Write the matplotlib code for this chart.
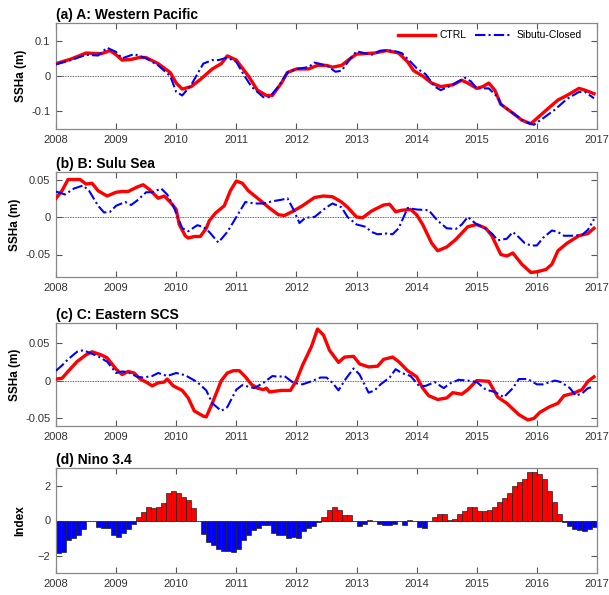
import numpy as np
import matplotlib
matplotlib.use("Agg")
import matplotlib.pyplot as plt

plt.rcParams['font.family'] = ['Liberation Sans', 'DejaVu Sans']

# ---- (a) Western Pacific ----
a_ctrl_t = [2008.0, 2008.25, 2008.5, 2008.75, 2008.9, 2009.0, 2009.1, 2009.25, 2009.4, 2009.5, 2009.7, 2009.9,
            2010.0, 2010.1, 2010.25, 2010.4, 2010.6, 2010.75, 2010.85, 2011.0, 2011.2, 2011.35, 2011.5, 2011.6,
            2011.75, 2011.85, 2012.0, 2012.2, 2012.35, 2012.5, 2012.6, 2012.75, 2012.9, 2013.0, 2013.3, 2013.5,
            2013.7, 2013.85, 2013.95, 2014.1, 2014.25, 2014.4, 2014.6, 2014.75, 2014.85, 2015.0, 2015.1, 2015.2,
            2015.3, 2015.4, 2015.6, 2015.75, 2015.9, 2016.0, 2016.2, 2016.35, 2016.5, 2016.7, 2016.8, 2016.95]
a_ctrl_v = [0.035, 0.048, 0.065, 0.063, 0.072, 0.06, 0.045, 0.047, 0.053, 0.052, 0.035, 0.01,
            -0.02, -0.037, -0.03, -0.01, 0.02, 0.035, 0.057, 0.045, 0.0, -0.04, -0.055, -0.055,
            -0.02, 0.01, 0.02, 0.02, 0.03, 0.03, 0.025, 0.03, 0.05, 0.062, 0.065, 0.072,
            0.065, 0.04, 0.015, 0.0, -0.02, -0.03, -0.025, -0.012, -0.02, -0.035, -0.03, -0.02,
            -0.04, -0.08, -0.105, -0.125, -0.135, -0.12, -0.09, -0.068, -0.055, -0.035, -0.04, -0.05]
a_sib_t = [2008.0, 2008.25, 2008.5, 2008.7, 2008.85, 2009.0, 2009.1, 2009.3, 2009.5, 2009.7, 2009.9, 2010.0,
           2010.1, 2010.25, 2010.45, 2010.6, 2010.7, 2010.85, 2011.0, 2011.1, 2011.25, 2011.45, 2011.55, 2011.7,
           2011.85, 2012.0, 2012.2, 2012.3, 2012.5, 2012.65, 2012.75, 2012.9, 2013.0, 2013.25, 2013.4, 2013.6,
           2013.75, 2013.9, 2014.0, 2014.15, 2014.3, 2014.4, 2014.6, 2014.8, 2014.9, 2015.0, 2015.2, 2015.35,
           2015.4, 2015.6, 2015.8, 2015.95, 2016.1, 2016.3, 2016.5, 2016.7, 2016.8, 2016.95]
a_sib_v = [0.033, 0.045, 0.06, 0.058, 0.08, 0.068, 0.05, 0.062, 0.05, 0.03, 0.0, -0.045,
           -0.055, -0.025, 0.035, 0.045, 0.045, 0.052, 0.04, 0.01, -0.03, -0.06, -0.06, -0.03,
           0.01, 0.02, 0.025, 0.038, 0.03, 0.012, 0.015, 0.05, 0.07, 0.06, 0.072, 0.072,
           0.065, 0.04, 0.022, 0.005, -0.03, -0.04, -0.025, -0.005, -0.015, -0.035, -0.035, -0.06,
           -0.08, -0.105, -0.13, -0.138, -0.12, -0.095, -0.065, -0.045, -0.045, -0.063]

# ---- (b) Sulu Sea ----
b_ctrl_t = [2008.0, 2008.1, 2008.2, 2008.4, 2008.5, 2008.6, 2008.7, 2008.85, 2009.0, 2009.1, 2009.2, 2009.35,
            2009.45, 2009.55, 2009.7, 2009.8, 2009.9, 2010.0, 2010.05, 2010.15, 2010.2, 2010.3, 2010.4, 2010.5,
            2010.55, 2010.65, 2010.8, 2010.9, 2011.0, 2011.1, 2011.2, 2011.4, 2011.55, 2011.7, 2011.8, 2011.95,
            2012.1, 2012.3, 2012.45, 2012.6, 2012.75, 2012.85, 2013.0, 2013.1, 2013.25, 2013.45, 2013.55, 2013.65,
            2013.75, 2013.9, 2014.0, 2014.1, 2014.25, 2014.35, 2014.5, 2014.65, 2014.85, 2015.0, 2015.15, 2015.25,
            2015.4, 2015.5, 2015.6, 2015.75, 2015.9, 2016.0, 2016.15, 2016.25, 2016.35, 2016.5, 2016.7, 2016.85,
            2016.95]
b_ctrl_v = [0.025, 0.035, 0.05, 0.05, 0.044, 0.045, 0.035, 0.028, 0.033, 0.034, 0.034, 0.04,
            0.043, 0.037, 0.025, 0.028, 0.02, 0.01, -0.01, -0.025, -0.028, -0.026, -0.026, -0.015,
            -0.005, 0.005, 0.015, 0.035, 0.048, 0.045, 0.035, 0.022, 0.012, 0.003, 0.002, 0.008,
            0.015, 0.026, 0.028, 0.027, 0.02, 0.013, 0.0, -0.001, 0.008, 0.016, 0.017, 0.007,
            0.009, 0.01, 0.003, -0.01, -0.035, -0.045, -0.04, -0.03, -0.013, -0.01, -0.015, -0.025,
            -0.05, -0.052, -0.048, -0.063, -0.074, -0.073, -0.07, -0.063, -0.045, -0.035, -0.025, -0.022,
            -0.015]
b_sib_t = [2008.0, 2008.15, 2008.3, 2008.45, 2008.55, 2008.7, 2008.8, 2008.9, 2009.0, 2009.15, 2009.25, 2009.35,
           2009.5, 2009.6, 2009.75, 2009.85, 2009.95, 2010.1, 2010.2, 2010.35, 2010.45, 2010.55, 2010.7, 2010.85,
           2011.0, 2011.15, 2011.3, 2011.45, 2011.6, 2011.75, 2011.85, 2011.95, 2012.05, 2012.15, 2012.3, 2012.5,
           2012.6, 2012.75, 2012.85, 2013.0, 2013.15, 2013.25, 2013.35, 2013.5, 2013.6, 2013.7, 2013.85, 2014.0,
           2014.2, 2014.35, 2014.5, 2014.65, 2014.75, 2014.85, 2015.0, 2015.1, 2015.25, 2015.35, 2015.5, 2015.6,
           2015.7, 2015.8, 2015.9, 2016.0, 2016.1, 2016.25, 2016.35, 2016.45, 2016.6, 2016.75, 2016.85, 2016.95]
b_sib_v = [0.034, 0.03, 0.038, 0.042, 0.035, 0.015, 0.006, 0.007, 0.015, 0.02, 0.016, 0.022,
           0.033, 0.033, 0.038, 0.03, 0.015, -0.015, -0.019, -0.011, -0.013, -0.02, -0.034, -0.02,
           0.0, 0.02, 0.018, 0.018, 0.021, 0.023, 0.025, 0.01, -0.008, -0.001, 0.0, 0.013,
           0.018, 0.013, 0.0, -0.01, -0.013, -0.02, -0.023, -0.022, -0.023, -0.015, 0.012, 0.01,
           0.009, -0.005, -0.015, -0.016, -0.01, 0.0, -0.01, -0.013, -0.022, -0.031, -0.029, -0.02,
           -0.027, -0.035, -0.038, -0.038, -0.028, -0.018, -0.02, -0.025, -0.025, -0.024, -0.017, -0.003]

# ---- (c) Eastern SCS ----
c_ctrl_t = [2008.0, 2008.1, 2008.2, 2008.35, 2008.5, 2008.6, 2008.75, 2008.85, 2009.0, 2009.1, 2009.2, 2009.3,
            2009.4, 2009.5, 2009.6, 2009.7, 2009.8, 2009.85, 2009.95, 2010.1, 2010.2, 2010.3, 2010.45, 2010.5,
            2010.6, 2010.7, 2010.75, 2010.85, 2010.95, 2011.05, 2011.15, 2011.25, 2011.35, 2011.45, 2011.5, 2011.55,
            2011.75, 2011.9, 2012.0, 2012.1, 2012.25, 2012.35, 2012.45, 2012.55, 2012.7, 2012.8, 2012.95, 2013.05,
            2013.2, 2013.35, 2013.45, 2013.6, 2013.7, 2013.85, 2014.0, 2014.1, 2014.2, 2014.35, 2014.5, 2014.6,
            2014.75, 2014.85, 2015.0, 2015.2, 2015.35, 2015.5, 2015.7, 2015.85, 2015.95, 2016.05, 2016.2, 2016.35,
            2016.45, 2016.6, 2016.75, 2016.85, 2016.95]
c_ctrl_v = [0.002, 0.003, 0.012, 0.025, 0.034, 0.038, 0.034, 0.03, 0.015, 0.008, 0.012, 0.01,
            0.002, -0.002, -0.007, -0.003, -0.002, 0.002, -0.007, -0.013, -0.023, -0.04, -0.047, -0.048,
            -0.03, -0.01, 0.0, 0.01, 0.013, 0.013, 0.005, -0.005, -0.01, -0.012, -0.01, -0.015,
            -0.013, -0.013, 0.0, 0.02, 0.045, 0.068, 0.06, 0.04, 0.024, 0.031, 0.032, 0.022,
            0.018, 0.019, 0.028, 0.031, 0.025, 0.013, 0.005, -0.01, -0.02, -0.025, -0.023, -0.016,
            -0.018, -0.012, 0.0, -0.001, -0.022, -0.03, -0.045, -0.052, -0.05, -0.042, -0.035, -0.03,
            -0.02, -0.017, -0.012, -0.001, 0.005]
c_sib_t = [2008.0, 2008.1, 2008.2, 2008.35, 2008.45, 2008.55, 2008.7, 2008.85, 2009.0, 2009.1, 2009.2, 2009.35,
           2009.45, 2009.6, 2009.7, 2009.85, 2010.0, 2010.15, 2010.35, 2010.5, 2010.6, 2010.75, 2010.85, 2011.0,
           2011.1, 2011.2, 2011.3, 2011.45, 2011.6, 2011.7, 2011.8, 2011.95, 2012.1, 2012.25, 2012.4, 2012.5,
           2012.6, 2012.7, 2012.8, 2012.95, 2013.05, 2013.2, 2013.3, 2013.4, 2013.55, 2013.65, 2013.75, 2013.9,
           2014.05, 2014.15, 2014.3, 2014.45, 2014.55, 2014.7, 2014.85, 2015.0, 2015.15, 2015.3, 2015.45, 2015.6,
           2015.7, 2015.85, 2016.0, 2016.1, 2016.3, 2016.4, 2016.55, 2016.65, 2016.75, 2016.85, 2016.95]
c_sib_v = [0.013, 0.02, 0.028, 0.038, 0.04, 0.037, 0.032, 0.025, 0.01, 0.012, 0.011, 0.005,
           0.004, 0.006, 0.01, 0.006, 0.01, 0.007, -0.002, -0.013, -0.03, -0.04, -0.035, -0.012,
           -0.006, -0.008, -0.01, -0.003, 0.006, 0.005, 0.006, -0.003, -0.005, -0.001, 0.004, 0.004,
           -0.003, -0.013, 0.0, 0.016, 0.008, -0.016, -0.013, -0.005, 0.004, 0.015, 0.01, 0.006,
           -0.008, -0.007, -0.002, -0.01, -0.004, 0.001, 0.0, -0.002, -0.012, -0.015, -0.022, -0.01,
           0.002, 0.002, -0.005, -0.005, 0.0, -0.002, -0.01, -0.02, -0.017, -0.01, -0.008]

# ---- (d) Nino 3.4 index, monthly Jan 2008 - Dec 2016 ----
nino = [-1.85, -1.8, -1.1, -1.0, -0.8, -0.5, -0.05, -0.05, -0.35, -0.4, -0.45, -0.8,
        -0.95, -0.7, -0.5, -0.2, 0.2, 0.5, 0.75, 0.7, 0.8, 1.0, 1.55, 1.7,
        1.6, 1.35, 1.15, 0.7, -0.05, -0.75, -1.2, -1.4, -1.6, -1.75, -1.75, -1.8,
        -1.65, -1.1, -0.8, -0.55, -0.4, -0.25, -0.25, -0.7, -0.8, -0.8, -1.0, -0.95,
        -1.0, -0.6, -0.45, -0.3, -0.1, 0.2, 0.6, 0.8, 0.6, 0.3, 0.3, 0.0,
        -0.3, -0.2, 0.05, -0.05, -0.2, -0.25, -0.25, -0.2, -0.05, -0.25, 0.05, -0.05,
        -0.35, -0.45, 0.0, 0.2, 0.4, 0.35, 0.05, 0.1, 0.4, 0.55, 0.75, 0.75,
        0.55, 0.55, 0.6, 0.8, 1.05, 1.3, 1.6, 2.0, 2.2, 2.4, 2.8, 2.8,
        2.65, 2.35, 1.7, 1.05, 0.35, -0.1, -0.3, -0.5, -0.55, -0.6, -0.5, -0.35]

years = list(range(2008, 2018))

fig = plt.figure(figsize=(6.09, 5.95), dpi=100)
L, W = 56/609, 541/609
boxes = [(23, 129), (172, 277), (323, 426), (468, 573)]
axes = [fig.add_axes([L, 1 - b/595, W, (b - t)/595]) for t, b in boxes]

def style(ax):
    ax.set_xlim(2008, 2017)
    ax.set_xticks(years)
    ax.tick_params(direction='in', top=True, right=True, length=4, width=0.8,
                   labelsize=8, colors='#555555', labelcolor='#333333', pad=4)
    for s in ax.spines.values():
        s.set_color('#888888')
        s.set_linewidth(0.9)
    ax.axhline(0, color='#333333', lw=0.6, ls=(0, (1, 1)), zorder=1)

panels = [
    (a_ctrl_t, a_ctrl_v, a_sib_t, a_sib_v, (-0.15, 0.15), [-0.1, 0, 0.1], ['-0.1', '0', '0.1'], '(a) A: Western Pacific'),
    (b_ctrl_t, b_ctrl_v, b_sib_t, b_sib_v, (-0.08, 0.06), [-0.05, 0, 0.05], ['-0.05', '0', '0.05'], '(b) B: Sulu Sea'),
    (c_ctrl_t, c_ctrl_v, c_sib_t, c_sib_v, (-0.06, 0.076), [-0.05, 0, 0.05], ['-0.05', '0', '0.05'], '(c) C: Eastern SCS'),
]

for ax, (ct, cv, st, sv, yl, yt, ytl, title) in zip(axes[:3], panels):
    style(ax)
    ax.plot(ct, cv, color='#ff0000', lw=2.4, label='CTRL', zorder=3)
    ax.plot(st, sv, color='#0000ff', lw=1.5, ls=(0, (5, 1.5, 1, 1.5)), label='Sibutu-Closed', zorder=4)
    ax.set_ylim(*yl)
    ax.set_yticks(yt)
    ax.set_yticklabels(ytl)
    ax.set_ylabel('SSHa (m)', fontsize=8.5, fontweight='bold', labelpad=3)
    ax.set_title(title, loc='left', fontsize=10, fontweight='bold', pad=3)

axes[0].legend(loc='upper right', frameon=False, ncol=2, fontsize=7.5, handlelength=3.5,
               columnspacing=0.8, handletextpad=0.5, bbox_to_anchor=(0.99, 1.02))

ax = axes[3]
style(ax)
nino = np.array(nino)
tb = 2008 + np.arange(len(nino))/12 + 0.5/12
cols = np.where(nino >= 0, '#ff0000', '#0000ff')
ax.bar(tb, nino, width=1/12, color=cols, edgecolor='#222222', linewidth=0.5, zorder=2)
ax.set_ylim(-3, 3)
ax.set_yticks([-2, 0, 2])
ax.set_ylabel('Index', fontsize=8.5, fontweight='bold', labelpad=8)
ax.set_title('(d) Nino 3.4', loc='left', fontsize=10, fontweight='bold', pad=3)

fig.savefig('out.png', dpi=100)
